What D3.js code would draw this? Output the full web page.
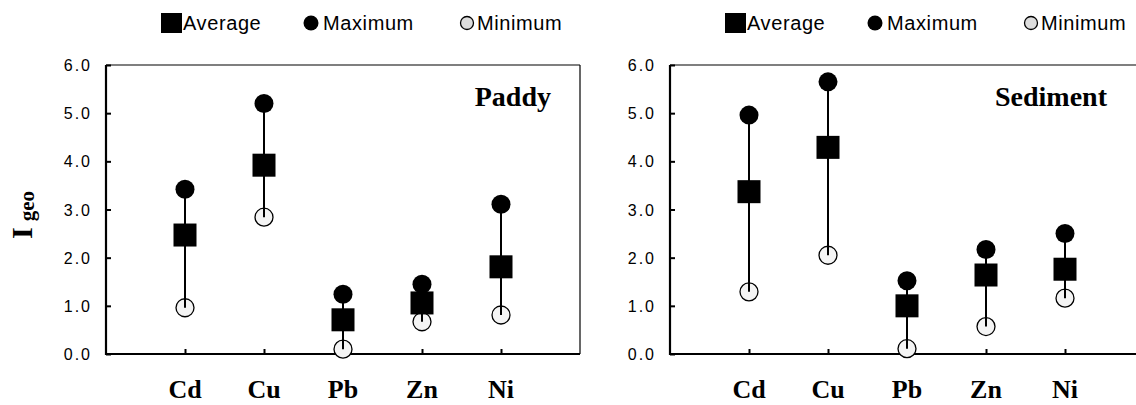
<!DOCTYPE html>
<html>
<head>
<meta charset="utf-8">
<script src="https://cdn.jsdelivr.net/npm/d3@7"></script>
<style>
  body { margin: 0; background: #fff; }
  svg { display: block; }
</style>
</head>
<body>
<svg width="1136" height="405"></svg>
<script>
// data
var elements = ["Cd", "Cu", "Pb", "Zn", "Ni"];
var panels = ["Paddy", "Sediment"];
var paddyAvg = [2.47, 3.92, 0.71, 1.06, 1.81];
var paddyMax = [3.42, 5.20, 1.24, 1.45, 3.11];
var paddyMin = [0.96, 2.84, 0.10, 0.67, 0.81];
var sedAvg = [3.37, 4.29, 1.00, 1.64, 1.76];
var sedMax = [4.96, 5.65, 1.52, 2.17, 2.50];
var sedMin = [1.29, 2.05, 0.11, 0.57, 1.16];
var yTicks = [0, 1, 2, 3, 4, 5, 6];
var legendNames = ["Average", "Maximum", "Minimum"];

var svg = d3.select("svg");
var w = 474;

var x = d3.scaleLinear().domain([0, 6]).range([0, w]);
var y = d3.scaleLinear().domain([0, 6]).range([354, 65]);

function drawPanel(left, title, avg, max, min) {
    var g = svg.append("g").attr("transform", "translate(" + left + ",0)");

    // frame: thin top and right, thick left and bottom
    g.append("line").attr("x1", 0).attr("x2", w).attr("y1", y(6)).attr("y2", y(6))
        .attr("stroke", "#000").attr("stroke-width", 1.2);
    g.append("line").attr("x1", w).attr("x2", w).attr("y1", y(6)).attr("y2", y(0))
        .attr("stroke", "#000").attr("stroke-width", 1.2);

    var yAxis = g.append("g")
        .call(d3.axisRight(y).tickValues(yTicks).tickSize(5).tickFormat(""));
    yAxis.select(".domain").remove();
    yAxis.selectAll("line").attr("stroke-width", 2);
    g.append("line").attr("x1", 0).attr("x2", 0).attr("y1", y(6)).attr("y2", y(0) + 1)
        .attr("stroke", "#000").attr("stroke-width", 2.2);

    g.selectAll(".ylab").data(yTicks).enter().append("text")
        .attr("x", -14).attr("y", function(d) { return y(d) + 6; })
        .attr("text-anchor", "end")
        .style("font-family", "'Liberation Sans', Arial, sans-serif")
        .style("font-size", "16px")
        .style("letter-spacing", "2px")
        .text(function(d) { return d.toFixed(1); });

    var xAxis = g.append("g").attr("transform", "translate(0," + y(0) + ")")
        .call(d3.axisTop(x).tickValues([1, 2, 3, 4, 5]).tickSize(5).tickFormat(""));
    xAxis.select(".domain").remove();
    xAxis.selectAll("line").attr("stroke-width", 2);
    g.append("line").attr("x1", 0).attr("x2", w).attr("y1", y(0)).attr("y2", y(0))
        .attr("stroke", "#000").attr("stroke-width", 2.2);

    g.selectAll(".xlab").data(elements).enter().append("text")
        .attr("x", function(d, i) { return x(i + 1); })
        .attr("y", 398)
        .attr("text-anchor", "middle")
        .style("font-family", "'Liberation Serif', 'Times New Roman', serif")
        .style("font-weight", "bold")
        .style("font-size", "26px")
        .text(function(d) { return d; });

    g.append("text")
        .attr("x", title == "Paddy" ? 445 : 437)
        .attr("y", 106)
        .attr("text-anchor", "end")
        .style("font-family", "'Liberation Serif', 'Times New Roman', serif")
        .style("font-weight", "bold")
        .style("font-size", "28px")
        .text(title);

    var pts = elements.map(function(e, i) {
        return { name: e, avg: avg[i], max: max[i], min: min[i], pos: i + 1 };
    });

    // minimum: open circles
    g.selectAll(".mn").data(pts).enter().append("circle")
        .attr("cx", function(d) { return x(d.pos); })
        .attr("cy", function(d) { return y(d.min); })
        .attr("r", 9)
        .attr("fill", "#f4f4f4")
        .attr("stroke", "#000")
        .attr("stroke-width", 1.3);

    // range line
    g.selectAll(".rg").data(pts).enter().append("line")
        .attr("x1", function(d) { return x(d.pos); })
        .attr("x2", function(d) { return x(d.pos); })
        .attr("y1", function(d) { return y(d.max); })
        .attr("y2", function(d) { return y(d.min); })
        .attr("stroke", "#000")
        .attr("stroke-width", 2);

    // maximum: filled circles
    g.selectAll(".mx").data(pts).enter().append("circle")
        .attr("cx", function(d) { return x(d.pos); })
        .attr("cy", function(d) { return y(d.max); })
        .attr("r", 9.5)
        .attr("fill", "#000");

    // average: squares
    g.selectAll(".av").data(pts).enter().append("rect")
        .attr("x", function(d) { return x(d.pos) - 11.5; })
        .attr("y", function(d) { return y(d.avg) - 11.5; })
        .attr("width", 23)
        .attr("height", 23)
        .attr("fill", "#000");

    // legend
    var lg = g.append("g").attr("transform", "translate(0,23)");
    lg.append("rect").attr("x", 55).attr("y", -10).attr("width", 21).attr("height", 20).attr("fill", "#000");
    lg.append("circle").attr("cx", 205).attr("cy", 0).attr("r", 7.5).attr("fill", "#000");
    lg.append("circle").attr("cx", 361).attr("cy", 0).attr("r", 6.5)
        .attr("fill", "#ddd").attr("stroke", "#000").attr("stroke-width", 1.3);
    lg.selectAll(".lt").data(legendNames).enter().append("text")
        .attr("x", function(d, i) { return [77, 217, 371][i]; })
        .attr("y", 7)
        .style("font-family", "'Liberation Sans', Arial, sans-serif")
        .style("font-size", "20px")
        .style("letter-spacing", "0.6px")
        .text(function(d) { return d; });
}

drawPanel(106, panels[0], paddyAvg, paddyMax, paddyMin);
drawPanel(670, panels[1], sedAvg, sedMax, sedMin);

// y axis title
svg.append("text")
    .attr("transform", "translate(32,215) rotate(-90)")
    .attr("text-anchor", "middle")
    .style("font-family", "'Liberation Serif', 'Times New Roman', serif")
    .style("font-weight", "bold")
    .call(function(t) {
        t.append("tspan").style("font-size", "30px").text("I");
        t.append("tspan").style("font-size", "21px").attr("dx", 6).attr("dy", 2).text("geo");
    });
</script>
</body>
</html>
